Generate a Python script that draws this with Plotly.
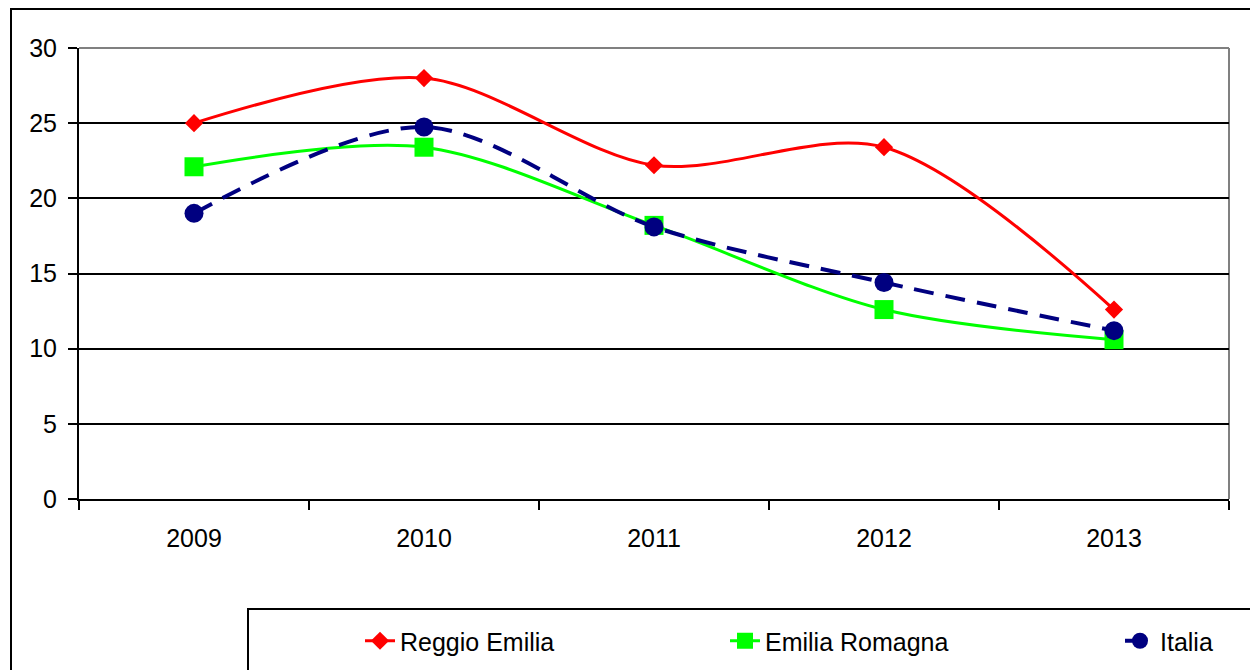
import plotly.graph_objects as go

years = ["2009", "2010", "2011", "2012", "2013"]
reggio = [25.0, 28.0, 22.2, 23.4, 12.6]
emilia = [22.1, 23.4, 18.2, 12.6, 10.6]
italia = [19.0, 24.75, 18.1, 14.4, 11.2]
y_ticks = [0, 5, 10, 15, 20, 25, 30]

W, H = 1250, 670
L, R, T, B = 79, 1229, 48, 499

def px(x):
    return (x - L) / (R - L)

def py(y):
    return (B - y) / (B - T)

FONT = "Liberation Sans, Arial, sans-serif"
FS = 25

fig = go.Figure()
fig.add_trace(go.Scatter(
    x=years, y=reggio, name="Reggio Emilia", mode="lines+markers",
    line=dict(color="#FF0000", width=3, shape="spline", smoothing=0.9),
    marker=dict(symbol="diamond", size=14, color="#FF0000"),
    legend="legend"))
fig.add_trace(go.Scatter(
    x=years, y=emilia, name="Emilia Romagna", mode="lines+markers",
    line=dict(color="#00FF00", width=3, shape="spline", smoothing=0.9),
    marker=dict(symbol="square", size=19, color="#00FF00"),
    legend="legend2"))
fig.add_trace(go.Scatter(
    x=years, y=italia, name="Italia", mode="lines+markers",
    line=dict(color="#000080", width=4, shape="spline", smoothing=0.9, dash="20px,12px"),
    marker=dict(symbol="circle", size=19, color="#000080"),
    legend="legend3"))

leg_common = dict(orientation="h", yanchor="middle", xanchor="left", y=py(641),
                  font=dict(family=FONT, size=FS, color="black"),
                  bgcolor="rgba(0,0,0,0)", borderwidth=0)

fig.update_layout(
    width=W, height=H,
    margin=dict(l=L, r=W - R, t=T, b=H - B, autoexpand=False),
    paper_bgcolor="white", plot_bgcolor="white",
    font=dict(family=FONT, size=FS, color="black"),
    showlegend=True,
    legend=dict(x=px(360), **leg_common),
    legend2=dict(x=px(725), **leg_common),
    legend3=dict(x=px(1120), **leg_common),
    xaxis=dict(
        type="category", range=[-0.5, 4.5], tickson="boundaries",
        ticks="outside", ticklen=9, tickwidth=2, tickcolor="black",
        showline=True, linecolor="black", linewidth=2,
        showgrid=False, zeroline=False, ticklabelstandoff=16,
        tickfont=dict(family=FONT, size=FS, color="black"),
        fixedrange=True,
    ),
    yaxis=dict(
        range=[0, 30], tickvals=y_ticks,
        ticks="outside", ticklen=9, tickwidth=2, tickcolor="black",
        showline=True, linecolor="black", linewidth=2,
        showgrid=True, gridcolor="black", gridwidth=2,
        zeroline=False, ticklabelstandoff=6,
        tickfont=dict(family=FONT, size=FS, color="black"),
        fixedrange=True,
    ),
)

shapes = [
    # gray top and right border of plot area
    dict(type="line", xref="paper", yref="paper", x0=0, x1=1, y0=1, y1=1,
         line=dict(color="#808080", width=2), layer="above"),
    dict(type="line", xref="paper", yref="paper", x0=1, x1=1, y0=0, y1=1,
         line=dict(color="#808080", width=2), layer="below"),
    # outer chart frame
    dict(type="rect", xref="paper", yref="paper",
         x0=px(11), x1=px(1260), y0=py(680), y1=py(9),
         line=dict(color="black", width=2), fillcolor="rgba(0,0,0,0)"),
    # legend box
    dict(type="rect", xref="paper", yref="paper",
         x0=px(248), x1=px(1260), y0=py(680), y1=py(609),
         line=dict(color="black", width=2), fillcolor="rgba(0,0,0,0)"),
]
fig.update_layout(shapes=shapes)

fig.write_html("out.html", config={"displayModeBar": False},
               post_script="document.body.style.margin='0';document.body.style.overflow='hidden';")
